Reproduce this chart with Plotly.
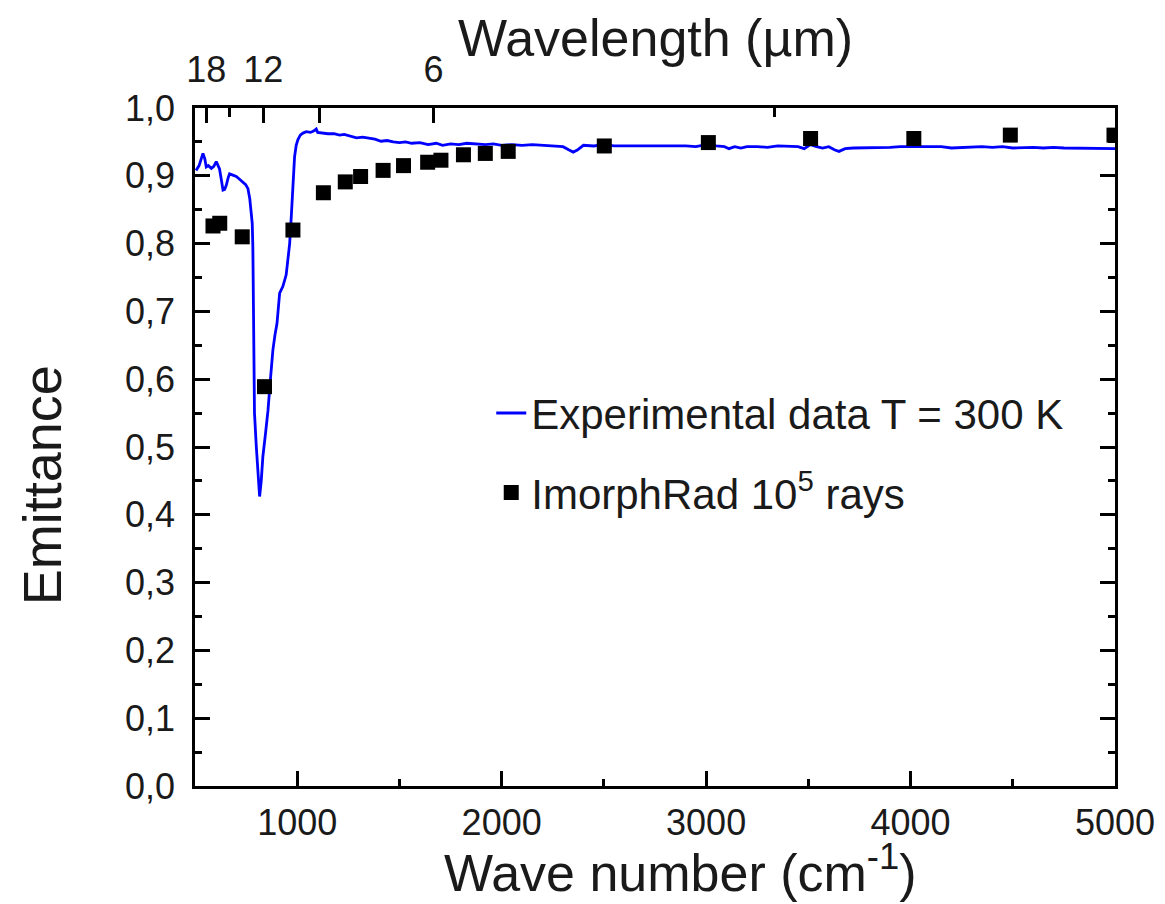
import plotly.graph_objects as go

# ---------------- data ----------------
exp_wavenumber = [
    505, 520, 539, 548, 555, 565, 580, 592, 604, 612, 620, 630, 637, 645, 653,
    662, 669, 685, 702, 718, 734, 748, 759, 768, 775, 780, 783, 785, 787, 791,
    800, 808, 816, 824, 832, 845, 857, 869, 881, 891, 901, 914, 930, 946, 955,
    963, 971, 979, 987, 995, 1003, 1015, 1028, 1044, 1065, 1080, 1093, 1100,
    1120, 1150, 1180, 1207, 1230, 1260, 1290, 1320, 1353, 1380, 1410, 1440,
    1470, 1500, 1530, 1560, 1600, 1640, 1680, 1711, 1750, 1790, 1830, 1873,
    1920, 1960, 2000, 2050, 2100, 2150, 2200, 2250, 2300, 2330, 2350, 2370,
    2400, 2450, 2500, 2550, 2600, 2650, 2700, 2750, 2800, 2850, 2900, 2950,
    3000, 3050, 3090, 3112, 3140, 3170, 3200, 3250, 3300, 3350, 3400, 3450,
    3480, 3510, 3540, 3570, 3600, 3630, 3650, 3680, 3720, 3760, 3800, 3850,
    3900, 3950, 4000, 4050, 4100, 4150, 4200, 4250, 4300, 4350, 4400, 4450,
    4500, 4550, 4600, 4650, 4700, 4750, 4800, 4850, 4900, 4950, 5000,
]
exp_emittance = [
    0.908, 0.915, 0.933, 0.925, 0.913, 0.915, 0.911, 0.914, 0.921, 0.916, 0.910,
    0.892, 0.879, 0.880, 0.886, 0.897, 0.903, 0.901, 0.899, 0.895, 0.891, 0.887,
    0.881, 0.866, 0.845, 0.830, 0.795, 0.740, 0.697, 0.550, 0.500, 0.461, 0.427,
    0.450, 0.486, 0.520, 0.554, 0.600, 0.643, 0.665, 0.682, 0.727, 0.737, 0.754,
    0.775, 0.800, 0.840, 0.879, 0.928, 0.945, 0.953, 0.960, 0.963, 0.965, 0.964,
    0.966, 0.969, 0.964, 0.963, 0.962, 0.962, 0.960, 0.961, 0.958, 0.956, 0.957,
    0.955, 0.954, 0.951, 0.952, 0.950, 0.949, 0.950, 0.948, 0.949, 0.946, 0.948,
    0.945, 0.947, 0.946, 0.948, 0.947, 0.946, 0.947, 0.945, 0.946, 0.945, 0.946,
    0.945, 0.945, 0.943, 0.938, 0.935, 0.938, 0.945, 0.944, 0.946, 0.944, 0.944,
    0.944, 0.945, 0.944, 0.944, 0.945, 0.944, 0.943, 0.946, 0.944, 0.943, 0.940,
    0.943, 0.941, 0.943, 0.943, 0.942, 0.944, 0.943, 0.943, 0.940, 0.946, 0.943,
    0.941, 0.943, 0.938, 0.936, 0.940, 0.941, 0.941, 0.942, 0.941, 0.942, 0.943,
    0.943, 0.943, 0.943, 0.943, 0.941, 0.942, 0.943, 0.943, 0.942, 0.943, 0.941,
    0.942, 0.942, 0.941, 0.942, 0.941, 0.941, 0.941, 0.941, 0.940, 0.940,
]

sim_wavenumber = [588, 621, 731, 840, 979, 1128, 1235, 1310, 1420, 1520, 1638,
                  1703, 1813, 1920, 2032, 2502, 3011, 3511, 4016, 4488, 4995]
sim_emittance = [0.826, 0.830, 0.810, 0.589, 0.820, 0.875, 0.891, 0.899, 0.908,
                 0.915, 0.920, 0.923, 0.931, 0.933, 0.936, 0.944, 0.949, 0.955,
                 0.955, 0.960, 0.960]

bottom_ticks = [1000, 2000, 3000, 4000, 5000]
y_ticks = [0.0, 0.1, 0.2, 0.3, 0.4, 0.5, 0.6, 0.7, 0.8, 0.9, 1.0]
top_major_um = [18, 12, 9, 6]
top_major_text = ["18", "12", "", "6"]
top_minor_um = [15, 3]

# ---------------- figure ----------------
FONT = "Liberation Sans, Arial, sans-serif"
TXT = "#1a1a1a"

fig = go.Figure()
fig.add_trace(go.Scatter(
    x=exp_wavenumber, y=exp_emittance, mode="lines",
    line=dict(color="#0000ff", width=2.8),
    name="Experimental data T = 300 K", legendgroup="a",
))
fig.add_trace(go.Scatter(
    x=sim_wavenumber, y=sim_emittance, mode="markers",
    marker=dict(symbol="square", size=15, color="#000000"),
    name="ImorphRad 10<sup>5</sup> rays", legendgroup="b",
))
# invisible trace to activate the top (wavelength) axis
fig.add_trace(go.Scatter(x=[500, 5000], y=[0, 0], xaxis="x2", mode="markers",
                         marker=dict(opacity=0), showlegend=False, hoverinfo="skip"))

axis_common = dict(showgrid=False, zeroline=False, linecolor="#000", linewidth=2.5,
                   ticks="inside", tickcolor="#000", tickwidth=2.5,
                   tickfont=dict(family=FONT, size=36, color=TXT))

fig.update_layout(
    width=1165, height=904,
    paper_bgcolor="white", plot_bgcolor="white",
    margin=dict(l=187, r=58, t=100, b=126),
    separators=",.",
    font=dict(family=FONT, color=TXT),
    xaxis=dict(range=[500, 5000], tickmode="array", tickvals=bottom_ticks,
               ticklen=15, ticklabelstandoff=3,
               minor=dict(dtick=500, tick0=500, ticks="inside", ticklen=7,
                          tickwidth=2.5, tickcolor="#000"),
               mirror=False, **axis_common),
    xaxis2=dict(range=[500, 5000], overlaying="x", side="top", anchor="y",
                tickmode="array",
                tickvals=[10000 / w for w in top_major_um], ticktext=top_major_text,
                ticklen=15, ticklabelstandoff=9,
                minor=dict(tickmode="array", tickvals=[10000 / w for w in top_minor_um],
                           ticks="inside", ticklen=9, tickwidth=2.5, tickcolor="#000"),
                **axis_common),
    yaxis=dict(range=[0, 1.0], tickmode="array", tickvals=y_ticks, tickformat=".1f",
               ticklen=15, ticklabelstandoff=10, mirror="ticks",
               minor=dict(dtick=0.05, tick0=0, ticks="inside", ticklen=7,
                          tickwidth=2.5, tickcolor="#000"),
               **axis_common),
    legend=dict(x=0.322, y=0.600, xanchor="left", yanchor="top",
                bgcolor="rgba(0,0,0,0)", borderwidth=0,
                font=dict(family=FONT, size=42, color=TXT),
                traceorder="grouped", tracegroupgap=22),
    annotations=[
        dict(text="Wave number (cm<sup>-1</sup>)", xref="paper", yref="paper",
             x=0.528, y=-0.122, xanchor="center", yanchor="middle", showarrow=False,
             font=dict(family=FONT, size=52, color=TXT)),
        dict(text="Wavelength (µm)", xref="paper", yref="paper",
             x=0.5, y=1.103, xanchor="center", yanchor="middle", showarrow=False,
             font=dict(family=FONT, size=52, color=TXT)),
        dict(text="Emittance", xref="paper", yref="paper", textangle=-90,
             x=-0.166, y=0.444, xanchor="center", yanchor="middle", showarrow=False,
             font=dict(family=FONT, size=54, color=TXT)),
    ],
)

fig.write_html("out.html")
